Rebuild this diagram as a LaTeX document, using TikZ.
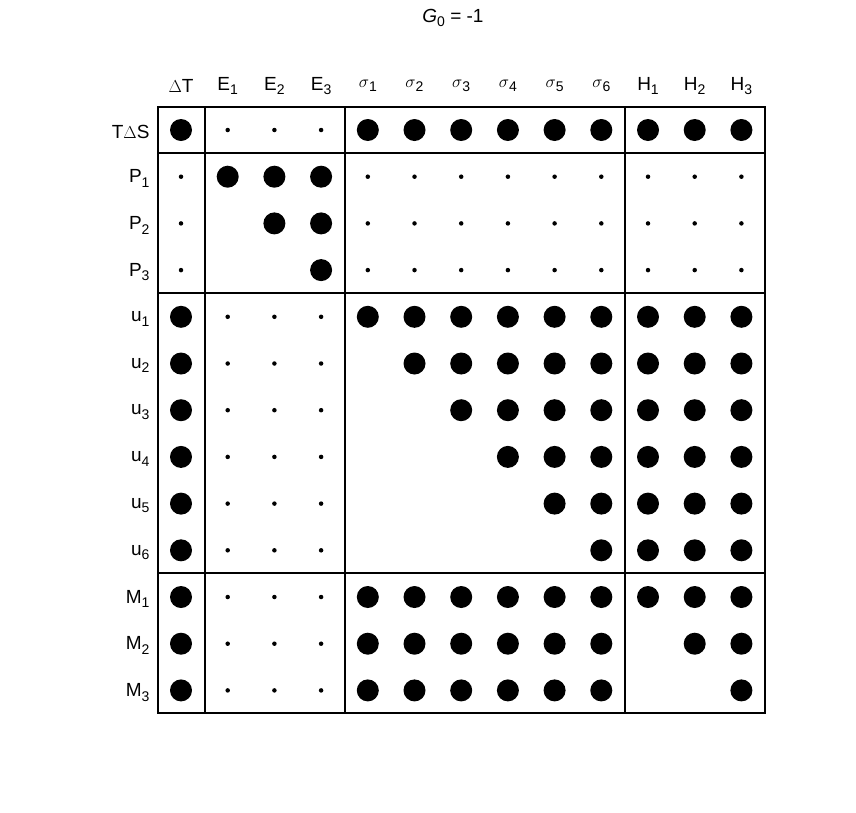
\documentclass[tikz,border=0pt]{standalone}
\usepackage{fontspec}
\setmainfont{Liberation Sans}
\usetikzlibrary{positioning}

\tikzset{
    bigdot/.style={circle, fill=black, inner sep=0pt, minimum size=22pt},
    smalldot/.style={circle, fill=black, inner sep=0pt, minimum size=4.5pt},
    lab/.style={font=\fontsize{19}{19}\selectfont},
    frame/.style={line width=2.6pt},
}
\newcommand{\sub}[1]{\raisebox{-0.45ex}{\fontsize{14}{14}\selectfont #1}}

\begin{document}
\begin{tikzpicture}[x=1pt, y=-1pt]
    \useasboundingbox (0,0) rectangle (856,812);

    \node[lab] (title) at (453,18) {\textit{G}\sub{0} = -1};

    % column labels
    \foreach \lbl [count=\c] in {$\Delta$T, E\sub{1}, E\sub{2}, E\sub{3},
        $\sigma$\sub{1}, $\sigma$\sub{2}, $\sigma$\sub{3}, $\sigma$\sub{4}, $\sigma$\sub{5}, $\sigma$\sub{6},
        H\sub{1}, H\sub{2}, H\sub{3}}
        \node[lab] (col\c) at ({181+46.7*(\c-1)}, 86) {\lbl};

    % row labels
    \foreach \lbl [count=\r] in {T$\Delta$S, P\sub{1}, P\sub{2}, P\sub{3},
        u\sub{1}, u\sub{2}, u\sub{3}, u\sub{4}, u\sub{5}, u\sub{6},
        M\sub{1}, M\sub{2}, M\sub{3}}
        \node[lab, anchor=east] (row\r) at (153, {132+46.7*(\r-1)}) {\lbl};

    % dots: 2 = big, 1 = small, 0 = none
    \foreach \pattern [count=\r] in {
        {2,1,1,1,2,2,2,2,2,2,2,2,2}, {1,2,2,2,1,1,1,1,1,1,1,1,1},
        {1,0,2,2,1,1,1,1,1,1,1,1,1}, {1,0,0,2,1,1,1,1,1,1,1,1,1},
        {2,1,1,1,2,2,2,2,2,2,2,2,2}, {2,1,1,1,0,2,2,2,2,2,2,2,2},
        {2,1,1,1,0,0,2,2,2,2,2,2,2}, {2,1,1,1,0,0,0,2,2,2,2,2,2},
        {2,1,1,1,0,0,0,0,2,2,2,2,2}, {2,1,1,1,0,0,0,0,0,2,2,2,2},
        {2,1,1,1,2,2,2,2,2,2,2,2,2}, {2,1,1,1,2,2,2,2,2,2,0,2,2},
        {2,1,1,1,2,2,2,2,2,2,0,0,2}}
    {
        \foreach \v [count=\c] in \pattern {
            \ifnum\v=2
                \node[bigdot] (d\r-\c) at ({181+46.7*(\c-1)}, {130+46.7*(\r-1)}) {};
            \else\ifnum\v=1
                \node[smalldot] (d\r-\c) at ({181+46.7*(\c-1)}, {130+46.7*(\r-1)}) {};
            \fi\fi
        }
    }

    % frame and blocks
    \draw[frame] (158,107) rectangle (765,713);
    \draw[frame] (205,107) -- (205,713);
    \draw[frame] (345,107) -- (345,713);
    \draw[frame] (625,107) -- (625,713);
    \draw[frame] (158,153) -- (765,153);
    \draw[frame] (158,293) -- (765,293);
    \draw[frame] (158,573) -- (765,573);
\end{tikzpicture}
\end{document}
